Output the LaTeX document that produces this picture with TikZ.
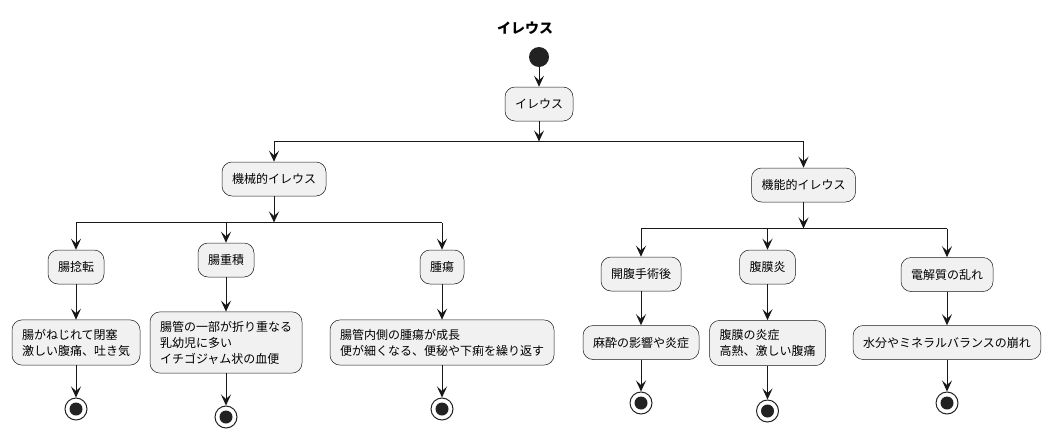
\documentclass[tikz,border=0pt]{standalone}
\usepackage{fontspec}
\setmainfont{Noto Sans CJK JP}
\usetikzlibrary{arrows.meta}
\definecolor{ln}{HTML}{181818}
\definecolor{bx}{HTML}{F1F1F1}
\definecolor{dot}{HTML}{222222}
\begin{document}
\begin{tikzpicture}[x=1pt,y=-1pt,
 act/.style={draw=ln, line width=0.5pt, fill=bx, rounded corners=10pt, inner xsep=10pt, inner ysep=9pt, minimum height=34pt, align=left, font=\fontsize{12pt}{16pt}\selectfont},
 flow/.style={draw=ln, line width=1pt, -{Stealth[length=11pt,width=10pt,inset=4.5pt]}},
 barline/.style={draw=ln, line width=1.2pt},
 startdot/.style={circle, fill=dot, minimum size=20pt, inner sep=0pt},
 enddot/.style={circle, draw=dot, line width=1pt, fill=white, minimum size=22pt, inner sep=0pt, path picture={\fill[dot] (path picture bounding box.center) circle (6.5pt);}},
 ttl/.style={font=\fontsize{14pt}{16pt}\selectfont\bfseries}]
\useasboundingbox (0,0) rectangle (1051,439);
\node[ttl] (title) at (525,28) {イレウス};
\node[startdot] (start) at (539,57) {};
\node[act] (ileus) at (539,104) {イレウス};
\coordinate (b1in) at (539,141.5);
\coordinate (b1L) at (274,141.5);
\coordinate (b1R) at (803.5,141.5);
\node[act] (mech) at (274,179) {機械的イレウス};
\node[act] (func) at (803.5,185) {機能的イレウス};
% left branch
\coordinate (b2in) at (274,222.5);
\coordinate (b2a) at (76,222.5);
\coordinate (b2b) at (226,222.5);
\coordinate (b2c) at (442,222.5);
\node[act] (k1) at (76,267) {腸捻転};
\node[act] (k2) at (226,260) {腸重積};
\node[act] (k3) at (442,267) {腫瘍};
\node[act] (kd1) at (76,342.5) {腸がねじれて閉塞\\激しい腹痛、吐き気};
\node[act] (kd2) at (226,342.5) {腸管の一部が折り重なる\\乳幼児に多い\\イチゴジャム状の血便};
\node[act] (kd3) at (442,342.5) {腸管内側の腫瘍が成長\\便が細くなる、便秘や下痢を繰り返す};
\node[enddot] (ke1) at (76,409) {};
\node[enddot] (ke2) at (226,417) {};
\node[enddot] (ke3) at (442,409) {};
% right branch
\coordinate (b3in) at (803.5,228.5);
\coordinate (b3a) at (641,228.5);
\coordinate (b3b) at (767.5,228.5);
\coordinate (b3c) at (947,228.5);
\node[act] (f1) at (641,274) {開腹手術後};
\node[act] (f2) at (767.5,267) {腹膜炎};
\node[act] (f3) at (947,274.5) {電解質の乱れ};
\node[act] (fd1) at (641,342.5) {麻酔の影響や炎症};
\node[act] (fd2) at (767.5,343) {腹膜の炎症\\高熱、激しい腹痛};
\node[act] (fd3) at (947,342.5) {水分やミネラルバランスの崩れ};
\node[enddot] (fe1) at (641,403) {};
\node[enddot] (fe2) at (767.5,411) {};
\node[enddot] (fe3) at (947,403) {};
% connectors
\draw[flow] (start) -- (ileus);
\draw[barline] (b1L) -- (b1R);
\draw[flow] (ileus) -- (b1in);
\draw[flow] (b1L) -- (mech);
\draw[flow] (b1R) -- (func);
\draw[barline] (b2a) -- (b2c);
\draw[flow] (mech) -- (b2in);
\draw[flow] (b2a) -- (k1);
\draw[flow] (b2b) -- (k2);
\draw[flow] (b2c) -- (k3);
\draw[flow] (k1) -- (kd1);
\draw[flow] (k2) -- (kd2);
\draw[flow] (k3) -- (kd3);
\draw[flow] (kd1) -- (ke1);
\draw[flow] (kd2) -- (ke2);
\draw[flow] (kd3) -- (ke3);
\draw[barline] (b3a) -- (b3c);
\draw[flow] (func) -- (b3in);
\draw[flow] (b3a) -- (f1);
\draw[flow] (b3b) -- (f2);
\draw[flow] (b3c) -- (f3);
\draw[flow] (f1) -- (fd1);
\draw[flow] (f2) -- (fd2);
\draw[flow] (f3) -- (fd3);
\draw[flow] (fd1) -- (fe1);
\draw[flow] (fd2) -- (fe2);
\draw[flow] (fd3) -- (fe3);
\end{tikzpicture}
\end{document}
